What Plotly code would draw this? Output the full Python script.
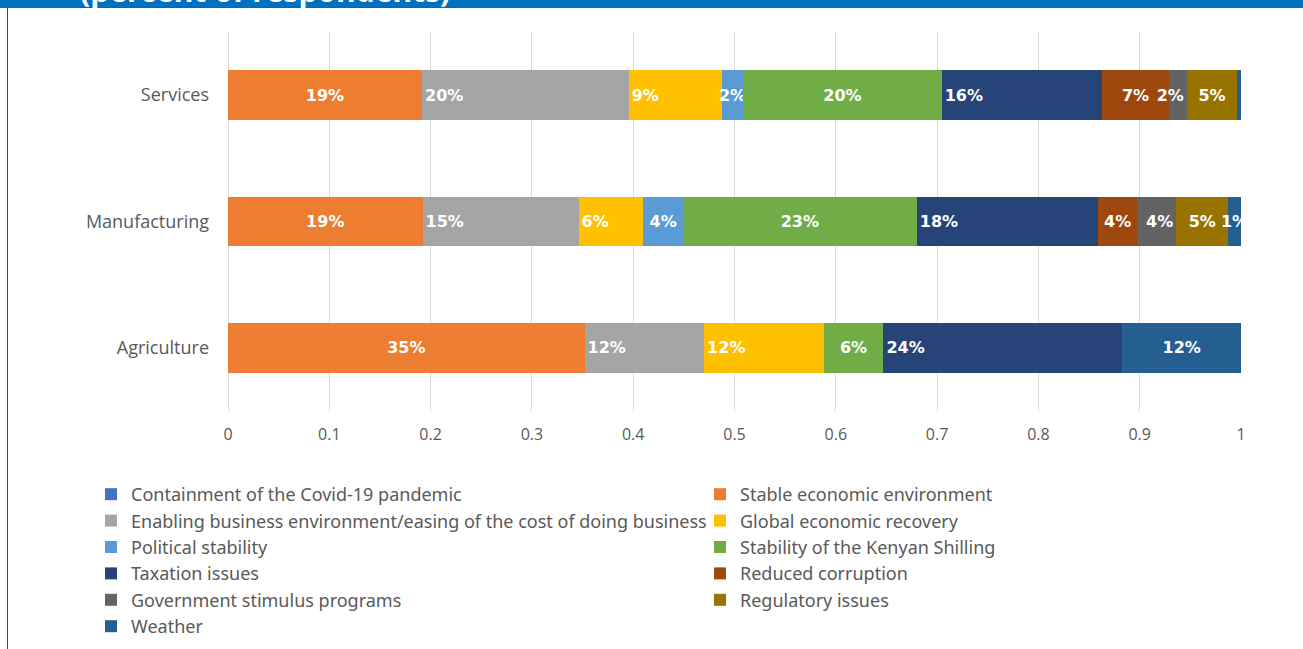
import plotly.graph_objects as go

# ---------------- data ----------------
categories = ["Services", "Manufacturing", "Agriculture"]

series_names = [
    "Containment of the Covid-19 pandemic",
    "Stable economic environment",
    "Enabling business environment/easing of the cost of doing business",
    "Global economic recovery",
    "Political stability",
    "Stability of the Kenyan Shilling",
    "Taxation issues",
    "Reduced corruption",
    "Government stimulus programs",
    "Regulatory issues",
    "Weather",
]

covid_containment = [0.0, 0.0, 0.0]
stable_economy = [0.1915, 0.192, 0.352]
enabling_business = [0.204, 0.154, 0.118]
global_recovery = [0.092, 0.064, 0.118]
political_stability = [0.021, 0.039, 0.0]
shilling_stability = [0.196, 0.231, 0.059]
taxation_issues = [0.158, 0.179, 0.236]
reduced_corruption = [0.0668, 0.0385, 0.0]
government_stimulus = [0.0172, 0.0385, 0.0]
regulatory_issues = [0.0497, 0.0514, 0.0]
weather = [0.0037, 0.0125, 0.117]

series_values = [
    covid_containment, stable_economy, enabling_business, global_recovery,
    political_stability, shilling_stability, taxation_issues,
    reduced_corruption, government_stimulus, regulatory_issues, weather,
]

x_ticks = [0, 0.1, 0.2, 0.3, 0.4, 0.5, 0.6, 0.7, 0.8, 0.9, 1]
title_text = "(percent of respondents)"

# ---------------- style ----------------
colors = ["#4472C4", "#ED7D31", "#A5A5A5", "#FFC000", "#5B9BD5", "#70AD47",
          "#264478", "#9E480E", "#636363", "#997300", "#255E91"]
anchors = ["middle", "middle", "start", "start", "middle", "middle",
           "start", "middle", "end", "middle", "middle"]

W, H = 1303, 649
ML, MR, MT, MB = 228, 62, 32, 238
PW = W - ML - MR
PH = H - MT - MB


def px_x(p):
    """page pixel x -> paper coordinate"""
    return (p - ML) / PW


def px_y(p):
    """page pixel y -> paper coordinate"""
    return (H - MB - p) / PH


fig = go.Figure()
for name, vals, col, anc in zip(series_names, series_values, colors, anchors):
    texts = [f"{round(v * 100):.0f}%" if v >= 0.005 else "" for v in vals]
    fig.add_trace(go.Bar(
        name=name, y=categories, x=vals, orientation="h",
        marker=dict(color=col, line=dict(width=0)),
        text=texts, textposition="inside", insidetextanchor=anc,
        constraintext="none", textangle=0,
        textfont=dict(family="DejaVu Sans", size=16, color="white", weight="bold"),
        hoverinfo="name+x",
    ))

shapes = [
    # top banner
    dict(type="rect", xref="paper", yref="paper", x0=px_x(-5), x1=px_x(W + 5),
         y0=px_y(7.5), y1=px_y(-5), fillcolor="#0070C0", line=dict(width=0), layer="above"),
    dict(type="line", xref="paper", yref="paper", x0=px_x(-5), x1=px_x(W + 5),
         y0=px_y(7.5), y1=px_y(7.5), line=dict(color="#2C5A96", width=1), layer="above"),
    # left frame line
    dict(type="line", xref="paper", yref="paper", x0=px_x(7.5), x1=px_x(7.5),
         y0=px_y(8), y1=px_y(H + 5), line=dict(color="#2E4A9E", width=1), layer="above"),
]

fig.update_layout(
    width=W, height=H,
    margin=dict(l=ML, r=MR, t=MT, b=MB, autoexpand=False),
    paper_bgcolor="white", plot_bgcolor="white",
    barmode="stack", bargap=0.605,
    font=dict(family="Open Sans", color="#595959"),
    xaxis=dict(range=[0, 1], tickvals=x_ticks, showgrid=True, gridcolor="#D9D9D9",
               gridwidth=1, zeroline=True, zerolinecolor="#D9D9D9", zerolinewidth=1,
               showline=False, ticks="", ticklabelstandoff=12,
               tickfont=dict(family="Open Sans", size=16, color="#595959")),
    yaxis=dict(autorange="reversed", showgrid=False, zeroline=False, showline=False,
               ticks="", ticklabelstandoff=18,
               tickfont=dict(family="Open Sans", size=18, color="#595959")),
    legend=dict(orientation="h", x=px_x(91), xanchor="left", y=px_y(476), yanchor="top",
                entrywidth=564, entrywidthmode="pixels", traceorder="normal",
                font=dict(family="Noto Sans", size=18, color="#595959"),
                itemclick=False, itemdoubleclick=False),
    shapes=shapes,
    annotations=[dict(text=f"<b>{title_text}</b>", xref="paper", yref="paper",
                      x=px_x(78), y=px_y(-9), xanchor="left", yanchor="middle",
                      showarrow=False,
                      font=dict(family="Open Sans", size=30, color="white"))],
    showlegend=True,
)

fig.write_html("out.html", config={"displayModeBar": False},
               post_script="document.body.style.margin='0';")
